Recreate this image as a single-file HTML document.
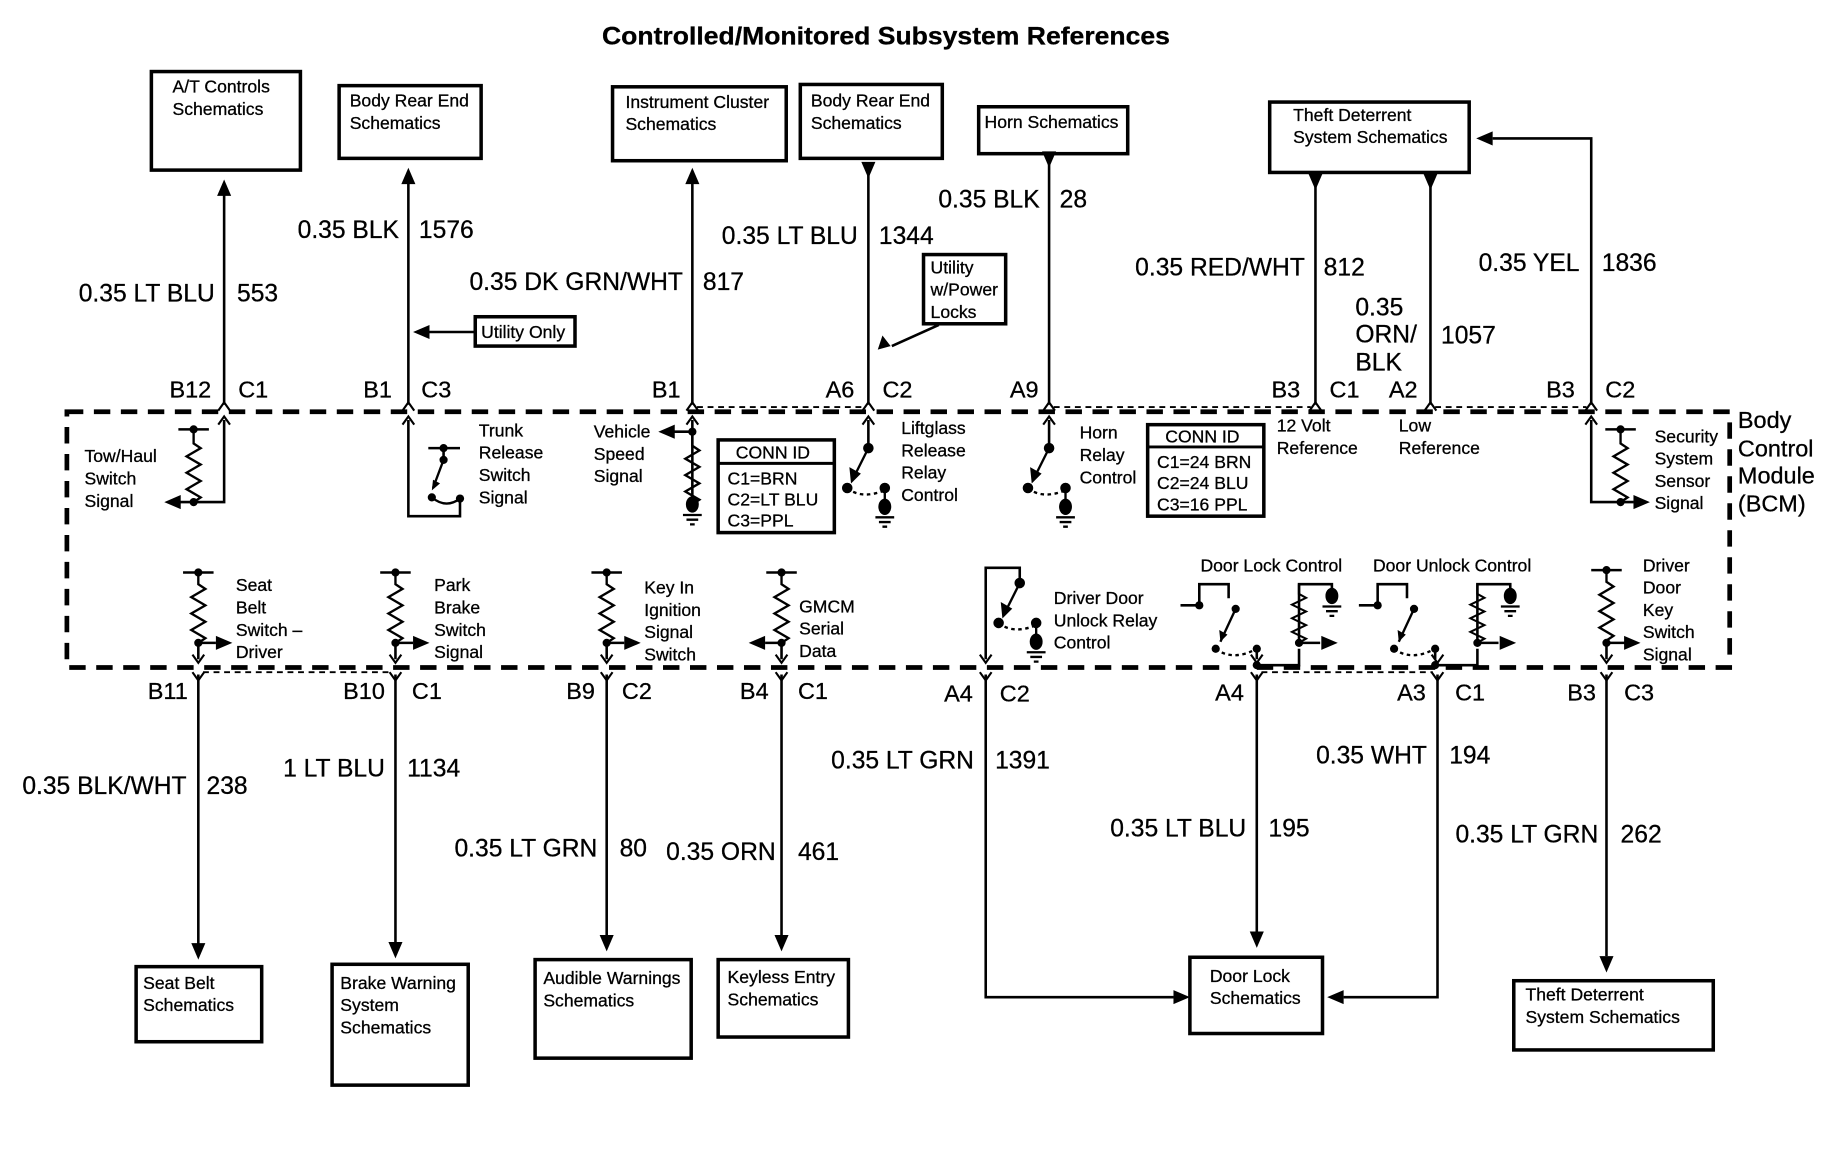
<!DOCTYPE html>
<html><head><meta charset="utf-8"><style>
html,body{margin:0;padding:0;background:#fff}
svg{display:block}
text{font-family:"Liberation Sans",sans-serif;fill:#000;stroke:#000;stroke-width:0.25}
.t{font-size:15px}
.w{font-size:21px}
.p{font-size:20px}
.b{font-size:20px}
</style></head><body>
<svg width="1840" height="1152" viewBox="0 0 1568 982" preserveAspectRatio="none" xmlns="http://www.w3.org/2000/svg">
<defs>
<path id="res" d="M0 0V10l6 4l-12 7l12 7l-12 7l12 7l-12 7l12 7l-6 4V60" fill="none" stroke="#000" stroke-width="2"/>
<g id="gnd"><ellipse cx="0" cy="0" rx="5.5" ry="7" fill="#000"/><path d="M-8 9H8M-5 13H5M-2 17H2" stroke="#000" stroke-width="2"/></g>
<g id="sw" fill="#000" stroke="#000" stroke-width="2">
<circle cx="0" cy="0" r="3.5"/><path d="M0 0L-14 28" fill="none"/><path d="M-14 28l-1-10l7 4z"/>
<circle cx="-18" cy="34" r="3.5"/><path d="M-18 34Q-6 44 14 36" fill="none" stroke-dasharray="3 3"/>
<circle cx="14" cy="34" r="3.5"/><path d="M14 34V50" fill="none"/></g>
<path id="au" d="M0 0l-6 14h12z" fill="#000"/>
<path id="ad" d="M0 0l-6 -14h12z" fill="#000"/>
<path id="ar" d="M0 0l-14 -6v12z" fill="#000"/>
<path id="al" d="M0 0l14 -6v12z" fill="#000"/>
<path id="chu" d="M-5 6L0 -1L5 6" fill="none" stroke="#000" stroke-width="1.8"/>
<path id="chd" d="M-5 -6L0 1L5 -6" fill="none" stroke="#000" stroke-width="1.8"/>
</defs>

<text x="513" y="38" font-size="21" font-weight="bold" textLength="484" lengthAdjust="spacingAndGlyphs">Controlled/Monitored Subsystem References</text>

<g fill="none" stroke="#000" stroke-width="4" stroke-dasharray="14 9">
<path d="M57 351H1474V569H57Z"/>
</g>
<text class="b" x="1481" y="365">Body</text>
<text class="b" x="1481" y="389">Control</text>
<text class="b" x="1481" y="412">Module</text>
<text class="b" x="1481" y="436">(BCM)</text>

<g stroke="#000" stroke-width="1.6" stroke-dasharray="5 4" fill="none">
<path d="M594 347H736M898 347H1117M1223 347H1352M173 573H333M1075 573H1221"/>
</g>

<g fill="none" stroke="#000" stroke-width="3">
<rect x="129" y="61" width="127" height="84"/>
<rect x="289" y="73" width="121" height="62"/>
<rect x="522" y="74" width="148" height="63"/>
<rect x="682" y="72" width="121" height="63"/>
<rect x="834" y="91" width="127" height="40"/>
<rect x="1082" y="87" width="170" height="60"/>
<rect x="405" y="270" width="85" height="25"/>
<rect x="787" y="217" width="70" height="59"/>
<rect x="612" y="375" width="99" height="79"/>
<rect x="978" y="362" width="99" height="78"/>
<rect x="116" y="824" width="107" height="64"/>
<rect x="283" y="822" width="116" height="103"/>
<rect x="456" y="818" width="133" height="84"/>
<rect x="612" y="818" width="111" height="66"/>
<rect x="1014" y="816" width="113" height="65"/>
<rect x="1290" y="836" width="170" height="59"/>
</g>
<path d="M612 395H711M978 381H1077" stroke="#000" stroke-width="2.5"/>

<g class="t">
<text x="147" y="79">A/T Controls</text><text x="147" y="98">Schematics</text>
<text x="298" y="91">Body Rear End</text><text x="298" y="110">Schematics</text>
<text x="533" y="92">Instrument Cluster</text><text x="533" y="111">Schematics</text>
<text x="691" y="91">Body Rear End</text><text x="691" y="110">Schematics</text>
<text x="839" y="109">Horn Schematics</text>
<text x="1102" y="103">Theft Deterrent</text><text x="1102" y="122">System Schematics</text>
<text x="410" y="288">Utility Only</text>
<text x="793" y="233">Utility</text><text x="793" y="252">w/Power</text><text x="793" y="271">Locks</text>
<text x="627" y="391">CONN ID</text><text x="620" y="413">C1=BRN</text><text x="620" y="431">C2=LT BLU</text><text x="620" y="449">C3=PPL</text>
<text x="993" y="377">CONN ID</text><text x="986" y="399">C1=24 BRN</text><text x="986" y="417">C2=24 BLU</text><text x="986" y="435">C3=16 PPL</text>
<text x="72" y="394">Tow/Haul</text><text x="72" y="413">Switch</text><text x="72" y="432">Signal</text>
<text x="408" y="372">Trunk</text><text x="408" y="391">Release</text><text x="408" y="410">Switch</text><text x="408" y="429">Signal</text>
<text x="506" y="373">Vehicle</text><text x="506" y="392">Speed</text><text x="506" y="411">Signal</text>
<text x="768" y="370">Liftglass</text><text x="768" y="389">Release</text><text x="768" y="408">Relay</text><text x="768" y="427">Control</text>
<text x="920" y="374">Horn</text><text x="920" y="393">Relay</text><text x="920" y="412">Control</text>
<text x="1088" y="368">12 Volt</text><text x="1088" y="387">Reference</text>
<text x="1192" y="368">Low</text><text x="1192" y="387">Reference</text>
<text x="1410" y="377">Security</text><text x="1410" y="396">System</text><text x="1410" y="415">Sensor</text><text x="1410" y="434">Signal</text>
<text x="201" y="504">Seat</text><text x="201" y="523">Belt</text><text x="201" y="542">Switch –</text><text x="201" y="561">Driver</text>
<text x="370" y="504">Park</text><text x="370" y="523">Brake</text><text x="370" y="542">Switch</text><text x="370" y="561">Signal</text>
<text x="549" y="506">Key In</text><text x="549" y="525">Ignition</text><text x="549" y="544">Signal</text><text x="549" y="563">Switch</text>
<text x="681" y="522">GMCM</text><text x="681" y="541">Serial</text><text x="681" y="560">Data</text>
<text x="898" y="515">Driver Door</text><text x="898" y="534">Unlock Relay</text><text x="898" y="553">Control</text>
<text x="1023" y="487">Door Lock Control</text><text x="1170" y="487">Door Unlock Control</text>
<text x="1400" y="487">Driver</text><text x="1400" y="506">Door</text><text x="1400" y="525">Key</text><text x="1400" y="544">Switch</text><text x="1400" y="563">Signal</text>
<text x="122" y="843">Seat Belt</text><text x="122" y="862">Schematics</text>
<text x="290" y="843">Brake Warning</text><text x="290" y="862">System</text><text x="290" y="881">Schematics</text>
<text x="463" y="839">Audible Warnings</text><text x="463" y="858">Schematics</text>
<text x="620" y="838">Keyless Entry</text><text x="620" y="857">Schematics</text>
<text x="1031" y="837">Door Lock</text><text x="1031" y="856">Schematics</text>
<text x="1300" y="853">Theft Deterrent</text><text x="1300" y="872">System Schematics</text>
</g>

<g stroke="#000" stroke-width="2.2" fill="none">
<path d="M191 160V345M348 150V345M590 150V345M740 140V345M894 131V345M1121 150V345M1219 150V345M1356 345V118H1272"/>
<path d="M405 283H364M800 277L760 295"/>
<path d="M169 575V805M337 575V805M517 575V800M666 575V800M840 575V850H1000M1071 575V796M1225 575V850H1145M1369 575V815"/>
</g>
<use href="#au" x="191" y="153"/><use href="#au" x="348" y="143"/><use href="#au" x="590" y="143"/>
<use href="#ad" x="740" y="152"/><use href="#ad" x="894" y="143"/><use href="#ad" x="1121" y="162"/><use href="#ad" x="1219" y="162"/>
<use href="#al" x="1258" y="118"/><use href="#al" x="352" y="283"/>
<path d="M748 298l4-12l7 9z" fill="#000"/>
<use href="#ad" x="169" y="818"/><use href="#ad" x="337" y="817"/><use href="#ad" x="517" y="811"/><use href="#ad" x="666" y="811"/>
<use href="#ad" x="1071" y="808"/><use href="#ad" x="1369" y="829"/>
<use href="#ar" x="1014" y="850"/><use href="#al" x="1131" y="850"/>

<g>
<use href="#chu" x="191" y="344"/><use href="#chu" x="348" y="344"/><use href="#chu" x="590" y="344"/><use href="#chu" x="740" y="344"/><use href="#chu" x="894" y="344"/><use href="#chu" x="1121" y="344"/><use href="#chu" x="1219" y="344"/><use href="#chu" x="1356" y="344"/>
<use href="#chu" x="191" y="356"/><use href="#chu" x="348" y="356"/><use href="#chu" x="590" y="356"/><use href="#chu" x="740" y="356"/><use href="#chu" x="894" y="356"/><use href="#chu" x="1356" y="356"/>
<use href="#chd" x="169" y="579"/><use href="#chd" x="337" y="579"/><use href="#chd" x="517" y="579"/><use href="#chd" x="666" y="579"/><use href="#chd" x="840" y="579"/><use href="#chd" x="1071" y="579"/><use href="#chd" x="1225" y="579"/><use href="#chd" x="1369" y="579"/>
<use href="#chd" x="169" y="564"/><use href="#chd" x="337" y="564"/><use href="#chd" x="517" y="564"/><use href="#chd" x="666" y="564"/><use href="#chd" x="840" y="564"/><use href="#chd" x="1071" y="564"/><use href="#chd" x="1225" y="564"/><use href="#chd" x="1369" y="564"/>
</g>

<g class="p">
<text x="180" y="339" text-anchor="end">B12</text><text x="203" y="339">C1</text>
<text x="334" y="339" text-anchor="end">B1</text><text x="359" y="339">C3</text>
<text x="580" y="339" text-anchor="end">B1</text>
<text x="728" y="339" text-anchor="end">A6</text><text x="752" y="339">C2</text>
<text x="885" y="339" text-anchor="end">A9</text>
<text x="1108" y="339" text-anchor="end">B3</text><text x="1133" y="339">C1</text>
<text x="1208" y="339" text-anchor="end">A2</text>
<text x="1342" y="339" text-anchor="end">B3</text><text x="1368" y="339">C2</text>
<text x="160" y="596" text-anchor="end">B11</text>
<text x="328" y="596" text-anchor="end">B10</text><text x="351" y="596">C1</text>
<text x="507" y="596" text-anchor="end">B9</text><text x="530" y="596">C2</text>
<text x="655" y="596" text-anchor="end">B4</text><text x="680" y="596">C1</text>
<text x="829" y="598" text-anchor="end">A4</text><text x="852" y="598">C2</text>
<text x="1060" y="597" text-anchor="end">A4</text>
<text x="1215" y="597" text-anchor="end">A3</text><text x="1240" y="597">C1</text>
<text x="1360" y="597" text-anchor="end">B3</text><text x="1384" y="597">C3</text>
</g>

<g class="w">
<text x="183" y="257" text-anchor="end">0.35 LT BLU</text><text x="202" y="257">553</text>
<text x="340" y="203" text-anchor="end">0.35 BLK</text><text x="357" y="203">1576</text>
<text x="582" y="247" text-anchor="end">0.35 DK GRN/WHT</text><text x="599" y="247">817</text>
<text x="731" y="208" text-anchor="end">0.35 LT BLU</text><text x="749" y="208">1344</text>
<text x="886" y="177" text-anchor="end">0.35 BLK</text><text x="903" y="177">28</text>
<text x="1112" y="235" text-anchor="end">0.35 RED/WHT</text><text x="1128" y="235">812</text>
<text x="1155" y="269">0.35</text><text x="1155" y="292">ORN/</text><text x="1155" y="316">BLK</text><text x="1228" y="293">1057</text>
<text x="1346" y="231" text-anchor="end">0.35 YEL</text><text x="1365" y="231">1836</text>
<text x="159" y="677" text-anchor="end">0.35 BLK/WHT</text><text x="176" y="677">238</text>
<text x="328" y="662" text-anchor="end">1 LT BLU</text><text x="347" y="662">1134</text>
<text x="509" y="730" text-anchor="end">0.35 LT GRN</text><text x="528" y="730">80</text>
<text x="661" y="733" text-anchor="end">0.35 ORN</text><text x="680" y="733">461</text>
<text x="830" y="655" text-anchor="end">0.35 LT GRN</text><text x="848" y="655">1391</text>
<text x="1062" y="713" text-anchor="end">0.35 LT BLU</text><text x="1081" y="713">195</text>
<text x="1216" y="651" text-anchor="end">0.35 WHT</text><text x="1235" y="651">194</text>
<text x="1362" y="718" text-anchor="end">0.35 LT GRN</text><text x="1381" y="718">262</text>
</g>

<g stroke="#000" stroke-width="2.2" fill="none">
<path d="M152 366H178M165 428H191V358M165 428H152"/>
<path d="M348 358V440H392V425M365 382H392M378 382V392"/>
<path d="M590 358V430M590 368H574"/>
<path d="M740 358V382M894 358V382"/>
<path d="M1356 358V428H1392M1368 366H1394"/>
<path d="M156 488H182M169 548V562M169 548H184"/>
<path d="M324 488H350M337 548V562M337 548H352"/>
<path d="M504 488H530M517 548V562M517 548H532"/>
<path d="M653 488H679M666 548V562M666 548H652"/>
<path d="M840 562V484H869V497"/>
<path d="M1356 486H1382M1369 548V562M1369 548H1385"/>
<path d="M1006 516H1022V498H1047V510M1071 553V562M1071 567H1107V553M1107 548V498H1135V506M1107 548H1125"/>
<path d="M1158 516H1174V498H1199V510M1223 553V562M1223 567H1259V553M1259 548V498H1287V506M1259 548H1277"/>
</g>
<g fill="#000">
<circle cx="165" cy="366" r="3.5"/><circle cx="165" cy="428" r="3.5"/>
<circle cx="378" cy="382" r="3.5"/><circle cx="378" cy="392" r="3.5"/><circle cx="392" cy="425" r="3.5"/><circle cx="368" cy="424" r="3.5"/>
<circle cx="590" cy="368" r="3.5"/><circle cx="1381" cy="366" r="3.5"/><circle cx="1381" cy="428" r="3.5"/>
<circle cx="169" cy="488" r="3.5"/><circle cx="169" cy="548" r="3.5"/>
<circle cx="337" cy="488" r="3.5"/><circle cx="337" cy="548" r="3.5"/>
<circle cx="517" cy="488" r="3.5"/><circle cx="517" cy="548" r="3.5"/>
<circle cx="666" cy="488" r="3.5"/><circle cx="666" cy="548" r="3.5"/>
<circle cx="1369" cy="486" r="3.5"/><circle cx="1369" cy="548" r="3.5"/>
<circle cx="1022" cy="516" r="3.5"/><circle cx="1071" cy="567" r="3.5"/><circle cx="1107" cy="548" r="3.5"/>
<circle cx="1174" cy="516" r="3.5"/><circle cx="1223" cy="567" r="3.5"/><circle cx="1259" cy="548" r="3.5"/>
</g>
<path d="M378 392L369 416M368 424Q380 434 392 425" stroke="#000" stroke-width="2" fill="none"/>
<path d="M368 418l1-9l6 3z" fill="#000"/>
<use href="#res" x="165" y="368"/><use href="#res" x="590" y="370"/><use href="#res" x="1381" y="368"/>
<use href="#res" x="169" y="488"/><use href="#res" x="337" y="488"/><use href="#res" x="517" y="488"/><use href="#res" x="666" y="488"/><use href="#res" x="1369" y="486"/>
<g transform="translate(1107 498) scale(1 0.83)"><use href="#res"/></g>
<g transform="translate(1259 498) scale(1 0.83)"><use href="#res"/></g>
<use href="#gnd" x="590" y="430"/><use href="#gnd" x="1135" y="508"/><use href="#gnd" x="1287" y="508"/>
<use href="#sw" x="740" y="382"/><use href="#gnd" x="754" y="432"/>
<use href="#sw" x="894" y="382"/><use href="#gnd" x="908" y="432"/>
<use href="#sw" x="869" y="497"/><use href="#gnd" x="883" y="547"/>
<g transform="translate(1053 519)"><circle r="3.5"/><path d="M0 0L-13 28" stroke="#000" stroke-width="2"/><path d="M-13 28l-1-10l7 4z"/><circle cx="-17" cy="34" r="3.5"/><path d="M-17 34Q-4 44 14 36" fill="none" stroke="#000" stroke-width="2" stroke-dasharray="3 3"/><circle cx="18" cy="34" r="3.5"/></g>
<g transform="translate(1205 519)"><circle r="3.5"/><path d="M0 0L-13 28" stroke="#000" stroke-width="2"/><path d="M-13 28l-1-10l7 4z"/><circle cx="-17" cy="34" r="3.5"/><path d="M-17 34Q-4 44 14 36" fill="none" stroke="#000" stroke-width="2" stroke-dasharray="3 3"/><circle cx="18" cy="34" r="3.5"/></g>
<use href="#al" x="140" y="428"/><use href="#al" x="561" y="368"/><use href="#ar" x="1406" y="428"/>
<use href="#ar" x="198" y="548"/><use href="#ar" x="366" y="548"/><use href="#ar" x="546" y="548"/><use href="#al" x="638" y="548"/><use href="#ar" x="1398" y="548"/>
<use href="#ar" x="1140" y="548"/><use href="#ar" x="1292" y="548"/>
</svg>
</body></html>
